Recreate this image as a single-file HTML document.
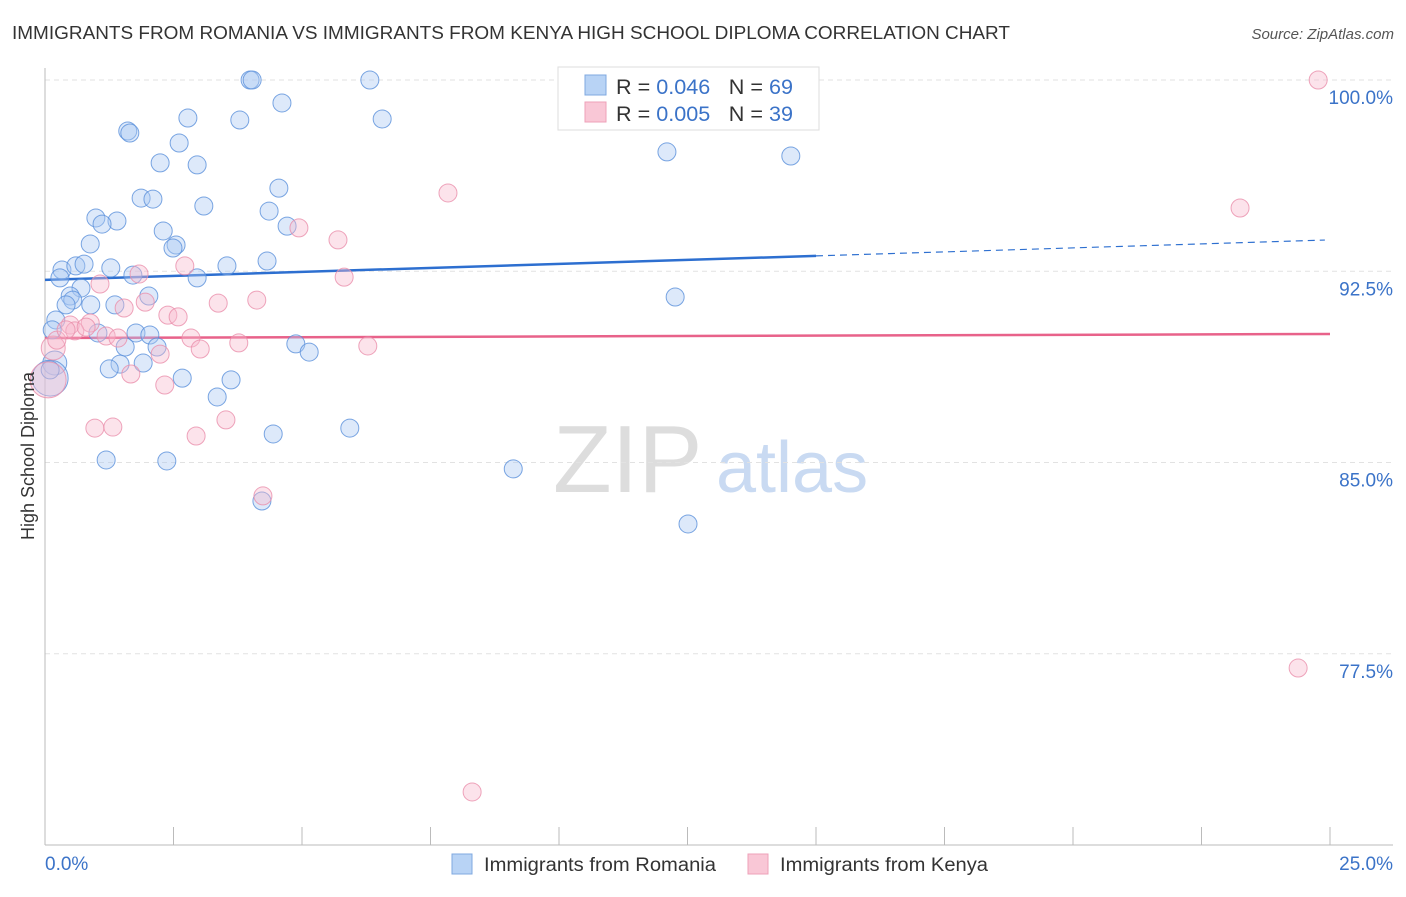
<!DOCTYPE html>
<html><head><meta charset="utf-8"><style>
body{margin:0;background:#fff;font-family:"Liberation Sans",sans-serif;}
svg text{font-family:"Liberation Sans",sans-serif;}
</style></head><body>
<svg id="chart" width="1406" height="892" xmlns="http://www.w3.org/2000/svg">
<text x="12" y="39" font-size="18" fill="#333" textLength="998" lengthAdjust="spacingAndGlyphs">IMMIGRANTS FROM ROMANIA VS IMMIGRANTS FROM KENYA HIGH SCHOOL DIPLOMA CORRELATION CHART</text>
<text x="1394" y="39" font-size="15" fill="#555" text-anchor="end" font-style="italic">Source: ZipAtlas.com</text>
<g>
<text x="553" y="492" font-size="96" fill="#ddd" font-family="Liberation Serif">ZIP</text>
<text x="716" y="492" font-size="72" fill="#c9daf2">atlas</text>
</g>
<g id="grid"></g>
<g id="axes"></g>
<g id="trend"></g>
<g id="pts"></g>
<text transform="translate(34,456) rotate(-90)" font-size="18" fill="#333" text-anchor="middle">High School Diploma</text>
<g>
<rect x="558" y="67" width="261" height="63" fill="#fff" stroke="#ddd"/>
<rect x="585" y="75" width="21" height="20" fill="#b8d3f5" stroke="#7fa8e0"/>
<rect x="585" y="102" width="21" height="20" fill="#f9c7d6" stroke="#eea0b8"/>
<text x="616" y="94" font-size="21" fill="#333" textLength="177" lengthAdjust="spacingAndGlyphs">R = <tspan fill="#3b73c8">0.046</tspan><tspan dx="18">N = </tspan><tspan fill="#3b73c8">69</tspan></text>
<text x="616" y="121" font-size="21" fill="#333" textLength="177" lengthAdjust="spacingAndGlyphs">R = <tspan fill="#3b73c8">0.005</tspan><tspan dx="18">N = </tspan><tspan fill="#3b73c8">39</tspan></text>
</g>
<g>
<rect x="452" y="854" width="20" height="20" fill="#b8d3f5" stroke="#7fa8e0"/>
<text x="484" y="871" font-size="19" fill="#333" textLength="232" lengthAdjust="spacingAndGlyphs">Immigrants from Romania</text>
<rect x="748" y="854" width="20" height="20" fill="#f9c7d6" stroke="#eea0b8"/>
<text x="780" y="871" font-size="19" fill="#333" textLength="208" lengthAdjust="spacingAndGlyphs">Immigrants from Kenya</text>
</g>
</svg>
<script>
const yTicks=[100,92.5,85,77.5];
const yTickLabels=["100.0%","92.5%","85.0%","77.5%"];
const xTicks=[0,2.5,5,7.5,10,12.5,15,17.5,20,22.5,25];
const blueX=[3.99,4.03,6.32,4.61,3.79,6.56,2.78,1.61,1.65,2.61,2.24,2.96,12.10,14.51,4.55,1.87,2.10,3.09,4.36,0.99,1.40,1.11,4.71,2.30,0.88,2.55,2.49,0.33,0.60,0.76,1.28,1.71,2.96,3.54,4.32,0.29,12.26,0.70,0.49,0.54,0.89,2.02,1.36,0.41,0.21,0.14,1.03,1.77,2.04,2.18,1.56,4.88,5.14,1.46,1.25,1.91,2.67,3.62,3.35,0.19,0.10,5.93,4.44,1.19,2.37,9.11,4.22,12.51,0.10];
const blueY=[100,100,100,99.10,98.43,98.47,98.51,98.0,97.92,97.53,96.75,96.67,97.18,97.02,95.76,95.37,95.33,95.06,94.86,94.59,94.47,94.35,94.27,94.08,93.57,93.53,93.41,92.55,92.71,92.78,92.63,92.35,92.24,92.71,92.90,92.24,91.49,91.84,91.53,91.37,91.18,91.53,91.18,91.18,90.59,90.20,90.08,90.08,90.0,89.53,89.53,89.65,89.33,88.86,88.67,88.90,88.31,88.24,87.57,88.90,88.31,86.35,86.12,85.10,85.06,84.75,83.49,82.59,88.63];
const blueR=[9,9,9,9,9,9,9,9,9,9,9,9,9,9,9,9,9,9,9,9,9,9,9,9,9,9,9,9,9,9,9,9,9,9,9,9,9,9,9,9,9,9,9,9,9,9,9,9,9,9,9,9,9,9,9,9,9,9,9,12,18,9,9,9,9,9,9,9,9];
const pinkX=[24.77,7.84,23.25,4.94,5.70,5.82,2.72,1.83,1.07,4.12,3.37,1.95,1.54,2.39,2.59,0.88,0.49,0.58,1.19,1.42,2.84,3.02,3.77,2.24,6.28,1.67,2.33,0.16,0.06,3.52,0.97,1.32,2.94,4.24,24.38,8.31,0.23,0.41,0.80];
const pinkY=[100,95.57,94.98,94.20,93.73,92.27,92.71,92.39,92.0,91.37,91.25,91.29,91.06,90.78,90.71,90.47,90.39,90.16,89.96,89.88,89.88,89.45,89.69,89.25,89.57,88.47,88.04,89.49,88.24,86.67,86.35,86.39,86.04,83.69,76.94,72.08,89.80,90.20,90.31];
const pinkR=[9,9,9,9,9,9,9,9,9,9,9,9,9,9,9,9,9,9,9,9,9,9,9,9,9,9,9,12,18,9,9,9,9,9,9,9,9,9,9];
const blueTrend=[92.16,93.73];
const pinkTrend=[89.88,90.04];
const X=v=>45+v/25*1285, Y=v=>80+(100-v)/30*765;
const NS="http://www.w3.org/2000/svg";
function mk(tag,attrs,parent){const e=document.createElementNS(NS,tag);for(const k in attrs)e.setAttribute(k,attrs[k]);document.getElementById(parent).appendChild(e);return e;}
yTicks.forEach((t,i)=>{
 const g=mk('line',{x1:45,x2:1393,y1:Y(t),y2:Y(t),stroke:'#e2e2e2','stroke-dasharray':'5,4'},'grid');
 
 
 const l=mk('text',{x:1393,y:Y(t)+24,'font-size':19,fill:'#3b73c8','text-anchor':'end'},'grid');
 l.textContent=yTickLabels[i];
 
 
});
const ya=mk('line',{x1:45,x2:45,y1:68,y2:845,stroke:'#bbb'},'axes');


const xa=mk('line',{x1:45,x2:1393,y1:845,y2:845,stroke:'#bbb'},'axes');


xTicks.forEach(t=>{
 const k=mk('line',{x1:X(t),x2:X(t),y1:827,y2:845,stroke:'#bbb'},'axes');
 
 
});
const x0=mk('text',{x:45,y:870,'font-size':19,fill:'#3b73c8'},'axes');x0.textContent='0.0%';


const x1=mk('text',{x:1393,y:870,'font-size':19,fill:'#3b73c8','text-anchor':'end'},'axes');x1.textContent='25.0%';


function drawPts(xs,ys,rs,fill,stroke,name){
 xs.forEach((v,i)=>{
  const c=mk('circle',{cx:X(v),cy:Y(ys[i]),r:rs[i],fill:fill,'fill-opacity':0.4,stroke:stroke,'stroke-opacity':0.8,'stroke-width':1},'pts');
  
  
 });
}
drawPts(blueX,blueY,blueR,'#a9c9f2','#5a90db','romania-point');
drawPts(pinkX,pinkY,pinkR,'#f7b9cc','#ea8fab','kenya-point');
const bAt=v=>blueTrend[0]+(blueTrend[1]-blueTrend[0])*v/25;
const bt1=mk('line',{x1:X(0),y1:Y(bAt(0)),x2:X(15),y2:Y(bAt(15)),stroke:'#2d6fd0','stroke-width':2.5},'trend');


const bt2=mk('line',{x1:X(15),y1:Y(bAt(15)),x2:X(24.9),y2:Y(bAt(24.9)),stroke:'#2d6fd0','stroke-width':1.2,'stroke-dasharray':'7,5'},'trend');


const pt=mk('line',{x1:X(0),y1:Y(pinkTrend[0]),x2:X(25),y2:Y(pinkTrend[1]),stroke:'#e8628a','stroke-width':2.5},'trend');


</script>
</body></html>
